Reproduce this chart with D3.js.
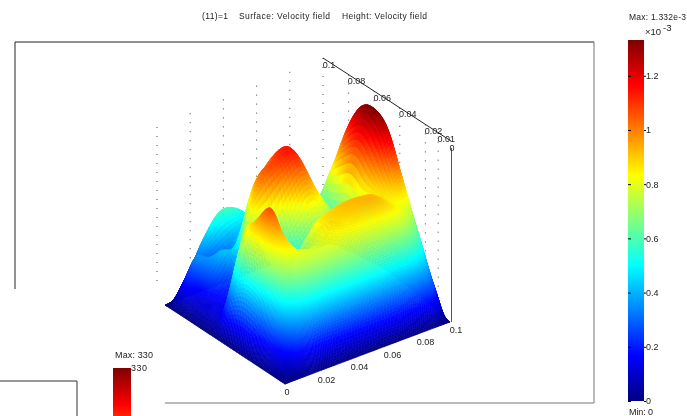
<!DOCTYPE html>
<html>
<head>
<meta charset="utf-8">
<script src="https://cdn.jsdelivr.net/npm/d3@7"></script>
<style>
html, body { margin: 0; padding: 0; background: #fff; }
svg { display: block; font-family: "Liberation Sans", Arial, sans-serif; filter: blur(0.3px); }
text { fill: #222; font-size: 9px; }
.surface { filter: blur(0.7px); }
</style>
</head>
<body>
<div id="chart"></div>
<script>
// velocity field, heights (unit 1e-3)
const xNodes = [0, .004, .008, .013, .02, .03, .04, .05, .06, .07, .08, .09, .096, .1];
const yNodes = [0, .003, .006, .01, .015, .022, .03, .04, .05, .06, .07, .08, .09, .096, .1];
const heights = [
  [0, 0, 0, 0, 0, 0, 0, 0, 0, 0, 0, 0, 0, 0],
  [0, .08, .2, .26, .3, .3, .3, .3, .3, .3, .3, .22, .1, 0],
  [0, .14, .33, .45, .52, .52, .52, .52, .52, .52, .5, .36, .2, 0],
  [0, .2, .5, .66, .72, .73, .73, .73, .73, .73, .7, .5, .28, .02],
  [0, .26, .65, .84, .8, .78, .82, .84, .85, .87, .82, .65, .38, .03],
  [0, .32, .78, .94, .76, .72, .85, .9, .92, .93, .85, .82, .5, .04],
  [0, .4, .85, 1.06, .72, .67, .82, .88, .9, .88, .88, 1.02, .64, .05],
  [0, .42, .82, .9, .58, .5, .62, .72, .7, .66, .98, 1.26, .82, .06],
  [0, .33, .62, .78, .7, .62, .82, .95, .78, .64, 1.08, 1.33, .9, .07],
  [0, .12, .2, .28, .75, 1.0, 1.08, 1.12, .85, .62, 1.0, 1.28, .82, .07],
  [0, .1, .14, .18, .3, .85, 1.02, 1.1, .9, .62, .84, 1.05, .62, .05],
  [0, .1, .14, .3, .42, .42, .8, .85, .65, .45, .5, .65, .4, .04],
  [0, .15, .24, .36, .3, .34, .45, .5, .42, .3, .3, .32, .2, .02],
  [0, .07, .15, .24, .41, .57, .54, .4, .3, .2, .2, .2, .12, .01],
  [0, 0, 0, 0, 0, 0, 0, 0, 0, 0, 0, 0, 0, 0]
];

const jetStops = [0, .125, .375, .625, .875, 1];
const jetColors = ["#000080", "#0000ff", "#00ffff", "#ffff00", "#ff0000", "#800000"];
const zMax = 1.332;
const barTicks = [0, .2, .4, .6, .8, 1, 1.2];
const frontTicks = [0, .02, .04, .06, .08, .1];
const backTicks = [.1, .08, .06, .04, .02, .01, 0];
const wallTicks = [0, .02, .04, .06, .08, .1];
const smallMax = 330;

const width = 687, height = 416;
const svg = d3.select("#chart").append("svg").attr("width", width).attr("height", height);

const jet = d3.scaleLinear().domain(jetStops.map(d => d * zMax)).range(jetColors);

// oblique projection of the box
const xToPx = d3.scaleLinear().domain([0, .1]).range([0, 165]);
const xToPy = d3.scaleLinear().domain([0, .1]).range([0, -62]);
const yToPx = d3.scaleLinear().domain([0, .1]).range([0, -120]);
const yToPy = d3.scaleLinear().domain([0, .1]).range([0, -79]);
const zToPy = d3.scaleLinear().domain([0, zMax]).range([0, -181]);
const ox = 285, oy = 384;
const project = (x, y, z) => [ox + xToPx(x) + yToPx(y), oy + xToPy(x) + yToPy(y) + zToPy(z)];

// frame of the plot window, corner is covered by the other window
const frame = [
  {d: "M15,289V42H594", c: "#222"},
  {d: "M594,42V403H165", c: "#777"},
  {d: "M0,381H77V416", c: "#333"}
];
svg.selectAll("path.frame").data(frame).join("path").attr("class", "frame")
  .attr("d", d => d.d).attr("fill", "none").attr("stroke", d => d.c);

const titleParts = [
  {t: "(11)=1", x: 202, w: 26},
  {t: "Surface: Velocity field", x: 239, w: 91},
  {t: "Height: Velocity field", x: 342, w: 85}
];
svg.selectAll("text.title").data(titleParts).join("text").attr("class", "title")
  .attr("x", d => d.x).attr("y", 19)
  .attr("textLength", d => d.w).attr("lengthAdjust", "spacing")
  .style("font-size", "8.5px").text(d => d.t);

// dotted wall lines
const wallX = d3.scaleLinear().domain([0, .1]).range([157, 323]);
const wallTop = d3.scaleLinear().domain([0, .1]).range([127, 58]);
const backX = d3.scaleLinear().domain([0, .1]).range([451, 323]);
const backTop = d3.scaleLinear().domain([0, .1]).range([141, 58]);
const dotted = svg.append("g").attr("stroke", "#444").attr("stroke-dasharray", "1 8");
dotted.selectAll("line.wall").data(wallTicks).join("line").attr("class", "wall")
  .attr("x1", d => wallX(d)).attr("x2", d => wallX(d))
  .attr("y1", d => wallTop(d)).attr("y2", 288);
dotted.selectAll("line.back").data(backTicks.filter(d => d > 0 && d < .1)).join("line").attr("class", "back")
  .attr("x1", d => backX(d)).attr("x2", d => backX(d))
  .attr("y1", d => backTop(d)).attr("y2", 293);

// back edge and height axis
svg.append("line").attr("x1", backX(.1)).attr("y1", backTop(.1)).attr("x2", backX(0)).attr("y2", backTop(0)).attr("stroke", "#222");
svg.append("line").attr("x1", 451.5).attr("y1", 148).attr("x2", 451.5).attr("y2", 322).attr("stroke", "#555");

// catmull-rom over the node index, only used to smooth the drawn mesh
function cr(p0, p1, p2, p3, t) {
  return .5 * (2 * p1 + (p2 - p0) * t + (2 * p0 - 5 * p1 + 4 * p2 - p3) * t * t + (3 * p1 - p0 - 3 * p2 + p3) * t * t * t);
}
const pick = (a, i) => a[Math.max(0, Math.min(a.length - 1, i))];
function along(a, s) {
  const i = Math.min(Math.floor(s), a.length - 2), t = s - i;
  return cr(pick(a, i - 1), a[i], a[i + 1], pick(a, i + 2), t);
}
function heightAt(si, sj) {
  const j = Math.min(Math.floor(sj), heights.length - 2), t = sj - j;
  const rows = [j - 1, j, j + 1, j + 2].map(k => along(pick(heights, k), si));
  return Math.max(0, Math.min(zMax, cr(rows[0], rows[1], rows[2], rows[3], t)));
}

// more mesh steps where the surface is steep, else the colour shows bands
const xSteps = [14, 14, 14, 10, 10, 6, 6, 6, 6, 8, 8, 14, 14];
const ySteps = [14, 14, 12, 10, 8, 8, 8, 8, 8, 8, 8, 8, 10, 14];
const stepsToS = steps => steps.flatMap((n, k) => d3.range(n).map(i => k + i / n)).concat(steps.length);
const sx = stepsToS(xSteps), sy = stepsToS(ySteps);
const mesh = sy.map(b => sx.map(a => {
  const x = Math.max(0, along(xNodes, a)), y = Math.max(0, along(yNodes, b));
  const z = heightAt(a, b);
  return {x, y, z, p: project(x, y, z)};
}));
const cells = [];
for (let j = 0; j < sy.length - 1; j++) for (let i = 0; i < sx.length - 1; i++) {
  const q = [mesh[j][i], mesh[j][i + 1], mesh[j + 1][i + 1], mesh[j + 1][i]];
  cells.push({
    q,
    z: d3.mean(q, d => d.z),
    depth: d3.mean(q, d => project(d.x, d.y, 0)[1])
  });
}
cells.sort((a, b) => a.depth - b.depth); // far cells first

const line = d3.line();
svg.append("g").attr("class", "surface").selectAll("path").data(cells).join("path")
  .attr("d", d => line(d.q.map(c => c.p)) + "Z")
  .attr("fill", d => jet(d.z))
  .attr("stroke", d => jet(d.z))
  .attr("stroke-width", .6);

// tick labels of the box
svg.selectAll("text.front").data(frontTicks).join("text").attr("class", "front")
  .attr("x", d => project(d, 0, 0)[0] + (d === 0 ? 2 : d === .1 ? 6 : 8.5))
  .attr("y", d => project(d, 0, 0)[1] + 11)
  .attr("text-anchor", "middle").text(d => d);
svg.selectAll("text.back").data(backTicks).join("text").attr("class", "back")
  .attr("x", d => backX(d) + (d === 0 ? 1 : d === .1 ? 6 : 8))
  .attr("y", d => backTop(d) + 9.5)
  .attr("text-anchor", "middle").text(d => d);

// colour bar
const defs = svg.append("defs");
const grad = defs.append("linearGradient").attr("id", "jetGrad").attr("x1", 0).attr("x2", 0).attr("y1", 1).attr("y2", 0);
grad.selectAll("stop").data(jetStops).join("stop")
  .attr("offset", d => d).attr("stop-color", (d, i) => jetColors[i]);
const barY = d3.scaleLinear().domain([0, zMax]).range([401, 40]);
svg.append("rect").attr("x", 628).attr("y", barY(zMax)).attr("width", 16)
  .attr("height", barY(0) - barY(zMax)).attr("fill", "url(#jetGrad)");
const barAxis = svg.append("g").attr("transform", "translate(644,0)")
  .call(d3.axisRight(barY).tickValues(barTicks).tickSize(2).tickPadding(0).tickFormat(d => d));
barAxis.select(".domain").remove();
barAxis.selectAll("text").style("font-size", "9px").attr("fill", "#222");
const barIn = svg.append("g").attr("transform", "translate(628,0)")
  .call(d3.axisRight(barY).tickValues(barTicks).tickSize(3).tickFormat(""));
barIn.select(".domain").remove();

svg.append("text").attr("x", 629).attr("y", 20).attr("textLength", 57).style("font-size", "8.5px").text("Max: 1.332e-3");
svg.append("text").attr("x", 645).attr("y", 35).style("font-size", "9.5px").text("\u00d710");
svg.append("text").attr("x", 663).attr("y", 31).style("font-size", "9.5px").text("-3");
svg.append("text").attr("x", 629).attr("y", 415).attr("textLength", 24).text("Min: 0");

// second window's colour bar, cut by the picture edge
const smallY = d3.scaleLinear().domain([0, smallMax]).range([664, 368]);
const smallGrad = defs.append("linearGradient").attr("id", "smallGrad").attr("gradientUnits", "userSpaceOnUse")
  .attr("x1", 0).attr("x2", 0).attr("y1", smallY(0)).attr("y2", smallY(smallMax));
smallGrad.selectAll("stop").data(jetStops).join("stop")
  .attr("offset", d => d).attr("stop-color", (d, i) => jetColors[i]);
svg.append("rect").attr("x", 113).attr("y", smallY(smallMax)).attr("width", 18).attr("height", 48).attr("fill", "url(#smallGrad)");
svg.append("text").attr("x", 115).attr("y", 358).attr("textLength", 38).text("Max: " + smallMax);
svg.append("text").attr("x", 131).attr("y", 371).attr("textLength", 16).text(smallMax);
</script>
</body>
</html>
